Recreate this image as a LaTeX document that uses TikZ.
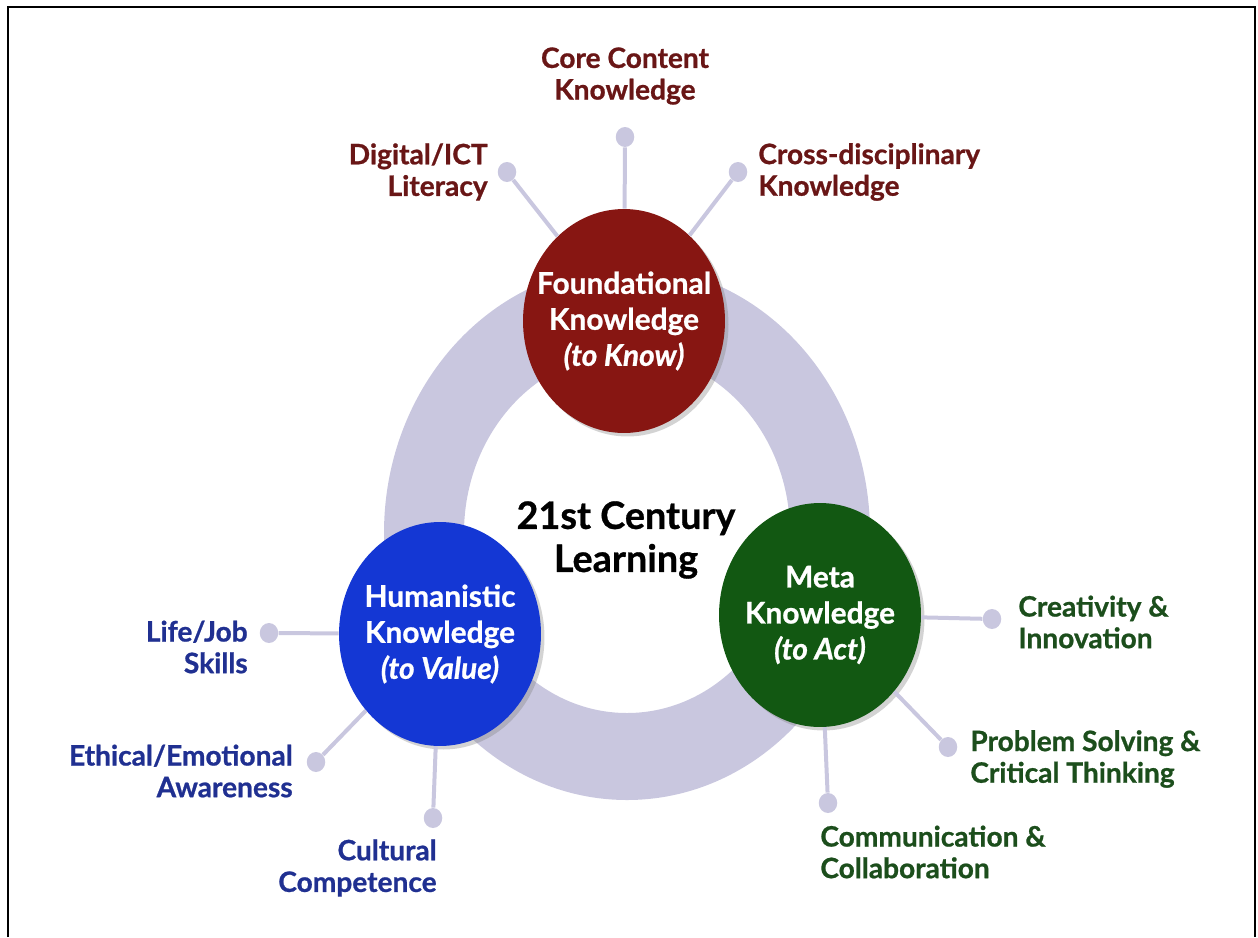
\documentclass[tikz,border=0pt]{standalone}
\usepackage{fontspec}
\setmainfont{Lato}[BoldFeatures={FakeBold=0.8}, BoldItalicFeatures={FakeBold=0.8}]
\usetikzlibrary{shapes.geometric,shadows}
\definecolor{foundred}{RGB}{135,22,18}
\definecolor{humblue}{RGB}{20,55,212}
\definecolor{metagreen}{RGB}{18,88,18}
\definecolor{ringgrey}{RGB}{201,199,223}
\definecolor{flab}{RGB}{105,22,22}
\definecolor{hlab}{RGB}{32,48,145}
\definecolor{mlab}{RGB}{28,78,28}
\begin{document}
\begin{tikzpicture}[x=0.02cm, y=-0.02cm,
    know/.style={ellipse, minimum width=4.04cm, minimum height=4.48cm, inner sep=0pt,
        drop shadow={opacity=0.35, shadow xshift=2pt, shadow yshift=-2pt}},
    circtext/.style={text=white, align=center, font=\fontsize{17}{20.5}\selectfont\bfseries},
    dot/.style={ellipse, fill=ringgrey, minimum width=0.37cm, minimum height=0.4cm, inner sep=0pt},
    spoke/.style={draw=ringgrey, line width=0.08cm},
    flabel/.style={text=flab, inner sep=0pt, font=\fontsize{16}{18}\selectfont\bfseries},
    hlabel/.style={text=hlab, inner sep=0pt, font=\fontsize{16}{18}\selectfont\bfseries},
    mlabel/.style={text=mlab, inner sep=0pt, font=\fontsize{16}{18}\selectfont\bfseries}
]
\useasboundingbox (0,0) rectangle (1258,937);
\draw[line width=0.05cm] (8,937) -- (8,7) -- (1255,7) -- (1255,937);

% Ring
\fill[ringgrey, even odd rule] (627,533) ellipse [x radius=243, y radius=267]
    (627,533) ellipse [x radius=163, y radius=180];
\node[align=center, font=\fontsize{21.5}{24.5}\selectfont\bfseries] (title) at (626,540) {21st Century\\Learning};

% Knowledge circles
\node[know, fill=foundred, label={[circtext]center:{Foundational\\Knowledge\\\textit{(to Know)}}}] (found) at (624,321) {};
\node[know, fill=humblue, label={[circtext]center:{Humanistic\\Knowledge\\\textit{(to Value)}}}] (hum) at (440,634) {};
\node[know, fill=metagreen, label={[circtext]center:{Meta\\Knowledge\\\textit{(to Act)}}}] (meta) at (820,615) {};

% Foundational
\node[dot] (dcore) at (625,137) {};
\node[dot] (ddig) at (507,172) {};
\node[dot] (dcross) at (738,172) {};
\node[flabel, align=center] (core) at (625,76) {Core Content\\Knowledge};
\node[flabel, align=right, anchor=east] (dig) at (488,172) {Digital/ICT\\Literacy};
\node[flabel, align=left, anchor=west] (cross) at (758,172) {Cross-disciplinary\\Knowledge};

% Humanistic
\node[dot] (dlife) at (269,633) {};
\node[dot] (deth) at (316,762) {};
\node[dot] (dcult) at (433,818) {};
\node[hlabel, align=right, anchor=east] (life) at (248,647) {Life/Job\\Skills};
\node[hlabel, align=right, anchor=east] (eth) at (293,771) {Ethical/Emotional\\Awareness};
\node[hlabel, align=right, anchor=east] (cult) at (437,868) {Cultural\\Competence};

% Meta
\node[dot] (dcrea) at (992,619) {};
\node[dot] (dprob) at (948,747) {};
\node[dot] (dcomm) at (828,803) {};
\node[mlabel, align=left, anchor=west] (crea) at (1018,622) {Creativity \&\\Innovation};
\node[mlabel, align=left, anchor=west] (prob) at (970,759) {Problem Solving \&\\Critical Thinking};
\node[mlabel, align=left, anchor=west] (comm) at (820,852) {Communication \&\\Collaboration};

% Spokes
\draw[spoke] (found) -- (dcore);
\draw[spoke] (found) -- (ddig);
\draw[spoke] (found) -- (dcross);
\draw[spoke] (hum) -- (dlife);
\draw[spoke] (hum) -- (deth);
\draw[spoke] (hum) -- (dcult);
\draw[spoke] (meta) -- (dcrea);
\draw[spoke] (meta) -- (dprob);
\draw[spoke] (meta) -- (dcomm);
\end{tikzpicture}
\end{document}
